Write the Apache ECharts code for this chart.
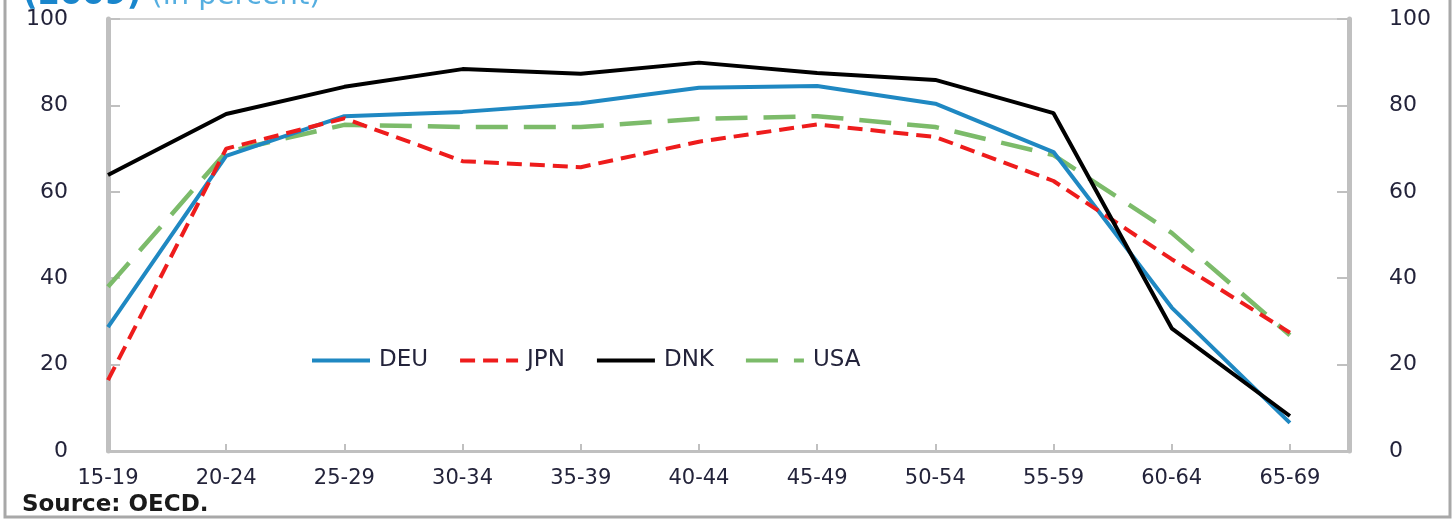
<!DOCTYPE html>
<html>
<head>
<meta charset="utf-8">
<script src="https://cdn.jsdelivr.net/npm/echarts@6/dist/echarts.min.js"></script>
<style>
  html, body { margin: 0; padding: 0; background: #fff; }
  #chart { width: 1455px; height: 522px; }
</style>
</head>
<body>
<div id="chart"></div>
<script>
// age groups (x axis)
var ageGroups = ['15-19', '20-24', '25-29', '30-34', '35-39', '40-44', '45-49', '50-54', '55-59', '60-64', '65-69']
// participation rates, in percent
var deu = [28.7, 68.3, 77.5, 78.5, 80.5, 84.1, 84.5, 80.4, 69.2, 33.2, 6.5]
var jpn = [16.4, 70.0, 77.0, 67.1, 65.7, 71.6, 75.6, 72.7, 62.5, 44.4, 27.4]
var dnk = [63.9, 78.0, 84.3, 88.4, 87.3, 89.9, 87.5, 85.9, 78.2, 28.4, 8.1]
var usa = [38.0, 69.2, 75.5, 75.0, 75.0, 76.9, 77.5, 75.0, 68.5, 50.5, 26.8]
var yTicks = [0, 20, 40, 60, 80, 100]

var font = 'DejaVu Sans'
var textColor = '#23233a'
var axisGrey = '#c0c0c0'

/* turn a value list into [index, value] pairs on the x value axis */
function pairs(arr) {
  return arr.map(function (v, i) { return [i, v] })
}

var myChart = echarts.init(document.getElementById('chart'))

var yAxisBase = function (pos) {
  return {
    type: 'value',
    position: pos,
    min: yTicks[0],
    max: yTicks[yTicks.length - 1],
    interval: 20,
    axisLine: { show: true, lineStyle: { color: axisGrey, width: 5 } },
    axisTick: { show: true, inside: true, length: 12, lineStyle: { color: axisGrey, width: 2 } },
    axisLabel: {
      margin: 40,
      color: textColor,
      fontFamily: font,
      fontSize: 22,
    },
    splitLine: { show: false },
  }
}

var option = {
  animation: false,
  backgroundColor: '#fff',
  title: {
    text: '{a|(2009)}  {b|(in percent)}',
    left: 18,
    top: -25,
    textStyle: {
      rich: {
        a: { fontFamily: font, fontSize: 32, fontWeight: 'bold', color: '#1a86cc' },
        b: { fontFamily: font, fontSize: 29, fontWeight: 'normal', color: '#55aee0' },
      },
    },
  },
  graphic: [
    {
      // outer frame of the figure
      type: 'rect',
      shape: { x: 5, y: -10, width: 1445, height: 527 },
      style: { fill: 'none', stroke: '#a8a8a8', lineWidth: 3 },
      silent: true,
    },
    {
      type: 'text',
      left: 22,
      top: 494,
      style: {
        text: 'Source: OECD.',
        fontFamily: font,
        fontSize: 23,
        fontWeight: 'bold',
        fill: '#1a1a1a',
      },
    },
  ],
  grid: {
    left: 108,
    right: 106,
    top: 19,
    bottom: 71,
    show: true,
    borderColor: '#d4d4d4',
    borderWidth: 2,
  },
  legend: {
    left: 305,
    top: 344,
    itemWidth: 58,
    itemHeight: 16,
    itemGap: 30,
    itemStyle: { opacity: 0 },
    lineStyle: { width: 4 },
    textStyle: {
      fontFamily: font,
      fontSize: 23,
      color: textColor,
      width: 112,
      padding: [0, 0, 0, 4],
    },
    data: ['DEU', 'JPN', 'DNK', 'USA'],
  },
  xAxis: {
    type: 'value',
    min: 0,
    max: 10.5,
    interval: 1,
    axisLine: { show: true, lineStyle: { color: axisGrey, width: 3 } },
    axisTick: { show: true, inside: true, length: 7, lineStyle: { color: axisGrey, width: 2 } },
    axisLabel: {
      margin: 17,
      color: textColor,
      fontFamily: font,
      fontSize: 21,
      showMaxLabel: false,
      formatter: function (v) {
        return Number.isInteger(v) && ageGroups[v] ? ageGroups[v] : ''
      },
    },
    splitLine: { show: false },
  },
  yAxis: [yAxisBase('left'), yAxisBase('right')],
  series: [
    {
      name: 'DEU',
      type: 'line',
      data: pairs(deu),
      symbol: 'none',
      color: '#1f88c2',
      lineStyle: { width: 4, color: '#1f88c2' },
      z: 3,
    },
    {
      name: 'JPN',
      type: 'line',
      data: pairs(jpn),
      symbol: 'none',
      color: '#ee1c1c',
      lineStyle: { width: 4, color: '#ee1c1c', type: [15, 8] },
      z: 4,
    },
    {
      name: 'DNK',
      type: 'line',
      data: pairs(dnk),
      symbol: 'none',
      color: '#000000',
      lineStyle: { width: 4, color: '#000000' },
      z: 5,
    },
    {
      name: 'USA',
      type: 'line',
      data: pairs(usa),
      symbol: 'none',
      color: '#7cbb6a',
      lineStyle: { width: 4.5, color: '#7cbb6a', type: [32, 16] },
      z: 2,
    },
  ],
}

myChart.setOption(option)
</script>
</body>
</html>
